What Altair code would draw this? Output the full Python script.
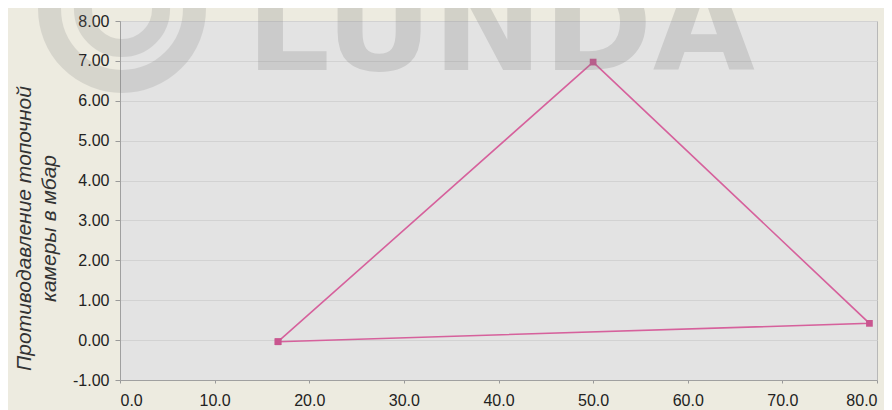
import altair as alt
import pandas as pd

x_vals = [16.7, 50.0, 79.2, 16.7]
y_vals = [-0.04, 6.97, 0.42, -0.04]
order = [0, 1, 2, 3]

x_ticks = [0, 10, 20, 30, 40, 50, 60, 70, 80]
y_ticks = [-1, 0, 1, 2, 3, 4, 5, 6, 7, 8]

df = pd.DataFrame({"x": x_vals, "y": y_vals, "o": order})

FONT = "Liberation Sans"

xenc = alt.X("x:Q", scale=alt.Scale(domain=[0, 80], nice=False, zero=False),
             axis=alt.Axis(values=x_ticks, format=".1f", title=None, grid=False,
                           labelFontSize=16, labelColor="#222222", labelPadding=9,
                           labelOverlap=False,
                           tickColor="#999999", tickSize=3, domainColor="#a0a0a0",
                           labelFont=FONT))
yenc = alt.Y("y:Q", scale=alt.Scale(domain=[-1, 8], nice=False, zero=False),
             axis=alt.Axis(values=y_ticks,
                           labelExpr="replace(format(datum.value, '.2f'), '\u2212', '-')",
                           title=["Противодавление топочной", "камеры в мбар"],
                           titleFont=FONT, titleFontSize=21, titleFontStyle="italic",
                           titleFontWeight="normal", titleColor="#333333",
                           titleX=-86, titleY=207, titleLineHeight=25,
                           labelFontSize=16, labelColor="#222222", labelPadding=6,
                           labelFont=FONT, labelOverlap=False,
                           tickColor="#999999", tickSize=5, domainColor="#a0a0a0",
                           gridColor="#d2d2d2"))

base = alt.Chart(df).encode(x=xenc, y=yenc)

line = base.mark_line(color="#d6619c", strokeWidth=1.6).encode(order="o:Q")
pts = base.mark_point(shape="square", filled=True, size=45,
                      color="#c9558f", opacity=1)

one = pd.DataFrame({"t": ["LUNDA"]})
wm = alt.Chart(one).mark_text(
    font="DejaVu Sans", fontWeight="bold", fontSize=132, color="#808080", opacity=0.24,
    align="left", baseline="alphabetic").encode(
    text="t:N", x=alt.value(126), y=alt.value(49))

ring1 = alt.Chart(one).mark_point(
    shape="circle", filled=False, size=21000, strokeWidth=23,
    color="#808080", opacity=0.2).encode(x=alt.value(2), y=alt.value(-12))
ring2 = alt.Chart(one).mark_point(
    shape="circle", filled=False, size=6100, strokeWidth=18,
    color="#808080", opacity=0.2).encode(x=alt.value(2), y=alt.value(-12))

chart = alt.layer(base.mark_point(opacity=0), line, pts, wm, ring1, ring2).properties(
    width=757, height=359,
    padding={"left": 112, "top": 13, "right": 7, "bottom": 30},
    autosize=alt.AutoSizeParams(type="none"),
    background="#edebe0",
).configure_view(fill="#e3e3e3", stroke="#b8b8b8", strokeWidth=1, clip=False)

chart.save("out.html", embed_options={"renderer": "svg", "actions": False})
